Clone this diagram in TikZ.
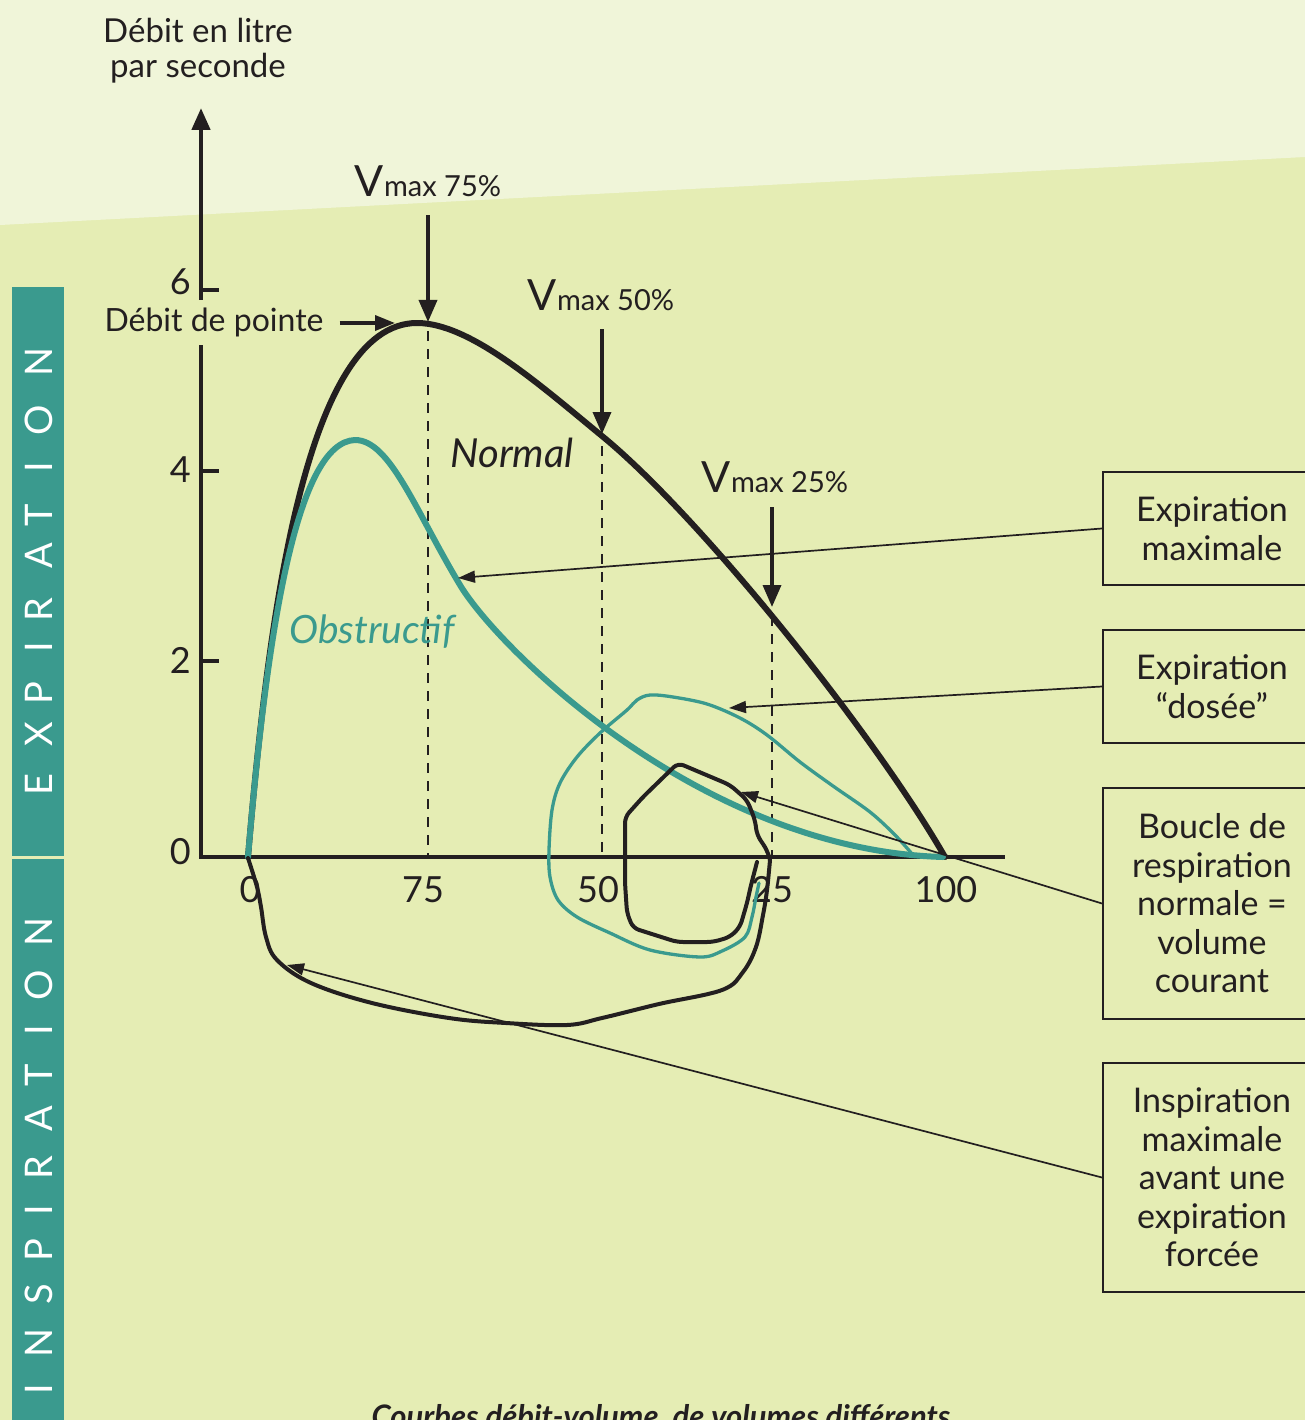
\documentclass[tikz,border=0pt]{standalone}
\usepackage{fontspec}
\setmainfont{Lato}
\usetikzlibrary{arrows.meta}
\definecolor{bgtop}{HTML}{F0F5D9}
\definecolor{bgmain}{HTML}{E5EDB4}
\definecolor{teal1}{HTML}{3A9A8E}
\definecolor{ink}{HTML}{231F20}
\newcommand{\myfs}[2]{\fontsize{#1pt}{#2pt}\selectfont}
\newcommand{\vmaxlabel}[1]{{\myfs{43}{46}V}{\myfs{29}{32}max #1\%}}
\begin{document}
\begin{tikzpicture}[x=1pt,y=-1pt,
  lbl/.style={inner sep=0pt, text=ink},
  num/.style={lbl, font=\myfs{36}{40}},
  axisline/.style={draw=ink, line width=4.5pt},
  tickline/.style={draw=ink, line width=3.5pt},
  dashline/.style={draw=ink, line width=2pt, dash pattern=on 10pt off 8pt},
  bigarrow/.style={draw=ink, line width=3.5pt, -{Triangle[length=22pt,width=18pt]}},
  thinarrow/.style={draw=ink, line width=1.7pt, -{Triangle[length=17pt,width=12pt]}},
  normalcurve/.style={draw=ink, line width=6pt, line join=round, line cap=round},
  obstcurve/.style={draw=teal1, line width=6pt, line join=round, line cap=round},
  dosecurve/.style={draw=teal1, line width=3.3pt, line join=round, line cap=round},
  loopcurve/.style={draw=ink, line width=4pt, line join=round, line cap=round},
  box/.style={draw=ink, line width=2pt, minimum width=218pt, align=center, inner sep=0pt, text=ink, font=\myfs{34}{38.5}},
  bandletter/.style={text=white, font=\myfs{38}{40}, rotate=90, inner sep=0pt},
]
\useasboundingbox (0,0) rectangle (1305,1420);
% background
\fill[bgmain] (0,0) rectangle (1305,1420);
\fill[bgtop] (0,0) -- (1305,0) -- (1305,157) -- (0,225) -- cycle;

% left band
\fill[teal1] (12,287) rectangle (64,855.5);
\fill[teal1] (12,858.5) rectangle (64,1420);
\foreach \l/\y [count=\i] in {E/785,X/734,P/693,I/647,R/610,A/556,T/515,I/467,O/420,N/362}
  \node[bandletter] (ex\i) at (39,\y) {\l};
\foreach \l/\y [count=\i] in {I/1389,N/1343,S/1294,P/1250,I/1210,R/1168,A/1119,T/1075,I/1030,O/985,N/932}
  \node[bandletter] (in\i) at (39,\y) {\l};

% axis title
\node[lbl, font=\myfs{33}{36}, anchor=base] (ylab1) at (198,43) {Débit en litre};
\node[lbl, font=\myfs{33}{36}, anchor=base] (ylab2) at (198,78) {par seconde};

% axes
\draw[axisline, -{Triangle[length=22pt,width=18pt]}] (201,300) -- (201,108);
\draw[axisline] (201,345) -- (201,859);
\draw[axisline] (199,857) -- (1005,857);
\draw[tickline] (201,290) -- (219,290);
\draw[tickline] (201,471) -- (219,471);
\draw[tickline] (201,661) -- (219,661);

% y labels
\node[num, anchor=east] (y6) at (191,282) {6};
\node[num, anchor=east] (y4) at (191,470) {4};
\node[num, anchor=east] (y2) at (191,660) {2};
\node[num, anchor=east] (y0) at (191,852) {0};

% x labels
\node[num] (x0) at (250,890) {0};
\node[num] (x75) at (423,890) {75};
\node[num] (x50) at (598,890) {50};
\node[num] (x25) at (772,890) {25};
\node[num] (x100) at (946,890) {100};

% curve points
\coordinate (pk) at (395,323);
\coordinate (p75) at (428,322);
\coordinate (p50) at (602,434);
\coordinate (p25) at (772,607);

% dashed verticals
\draw[dashline] (428,331) -- (428,857);
\draw[dashline] (602,446) -- (602,857);
\draw[dashline] (772,616) -- (772,857);

% Vmax labels and arrows
\node[lbl, anchor=base] (vm75) at (428,197) {\vmaxlabel{75}};
\node[lbl, anchor=base] (vm50) at (601,311) {\vmaxlabel{50}};
\node[lbl, anchor=base] (vm25) at (775,492) {\vmaxlabel{25}};
\draw[bigarrow, shorten <=18pt] (vm75.south -| p75) -- (p75);
\draw[bigarrow, shorten <=18pt] (vm50.south -| p50) -- (p50);
\draw[bigarrow, shorten <=15pt] (vm25.south -| p25) -- (p25);

% Debit de pointe
\node[lbl, font=\myfs{32}{36}, anchor=base] (dp) at (214,331) {Débit de pointe};
\draw[bigarrow, -{Triangle[length=20pt,width=15pt]}, shorten <=16pt] (dp.east |- pk) -- (pk);

% normal maximal expiration curve
\draw[normalcurve] (248,857) .. controls (268,620) and (305,323) .. (417,323)
  .. controls (470,323) and (540,385) .. (602,436)
  .. controls (700,516) and (875,735) .. (945,857);
% obstructive curve
\draw[obstcurve] (248,857) .. controls (268,620) and (298,442) .. (355,440)
  .. controls (390,440) and (415,510) .. (460,585)
  .. controls (497,647) and (700,850) .. (943,857);
% dosed expiration loop
\draw[dosecurve] plot[smooth, tension=0.55] coordinates {
 (913,855) (895,835) (870,812) (833,786) (800,762) (767,735) (740,718)
 (707,704) (673,697) (650,695) (637,700) (627,710) (600,733) (577,757)
 (560,783) (552,810) (549,850) (550,877) (558,900) (577,917) (610,933)
 (650,950) (700,957) (722,951) (745,937) (752,917) (756,897) (759,883)};
% tidal loop
\draw[loopcurve, rounded corners=6pt] (757,862) -- (751,885) -- (747,903) -- (740,927)
 -- (730,937) -- (713,942) -- (677,942) -- (633,928) -- (627,913) -- (625,883)
 -- (625,817) -- (643,797) -- (678,763) -- (730,785) -- (747,800) -- (755,820)
 -- (757,835) -- (767,850) -- (770,860);
% maximal inspiration loop
\draw[loopcurve] plot[smooth, tension=0.6] coordinates {
 (770,860) (767,890) (763,915) (756,947) (743,972) (722,990) (659,1004)
 (602,1018) (567,1025) (506,1023) (449,1018) (372,1003) (311,983) (277,960)
 (266,937) (261,907) (257,887) (248,858)};

% curve labels
\node[lbl, font=\itshape\myfs{40}{44}] (nlab) at (512,453) {Normal};
\node[lbl, font=\itshape\myfs{39}{44}, text=teal1] (olab) at (372,632) {Obstructif};

% boxes
\node[box, minimum height=113pt] (b1) at (1212,528.5) {Expiration\\maximale};
\node[box, minimum height=113pt] (b2) at (1212,686.5) {Expiration\\“dosée”};
\node[box, minimum height=231pt] (b3) at (1212,903.5) {Boucle de\\respiration\\normale =\\volume\\courant};
\node[box, minimum height=229pt] (b4) at (1212,1177.5) {Inspiration\\maximale\\avant une\\expiration\\forcée};

% connector targets
\coordinate (t1) at (458,578);
\coordinate (t2) at (729,708);
\coordinate (t3) at (741,792);
\coordinate (t4) at (287,965);
\draw[thinarrow] (b1.west) -- (t1);
\draw[thinarrow] (b2.west) -- (t2);
\draw[thinarrow] (b3.west) -- (t3);
\draw[thinarrow] (b4.west) -- (t4);

% caption (cut by the lower edge, as in the reference)
\node[lbl, font=\bfseries\itshape\myfs{31}{34}, anchor=base] (cap) at (661,1427) {Courbes débit-volume, de volumes différents};
\end{tikzpicture}
\end{document}
